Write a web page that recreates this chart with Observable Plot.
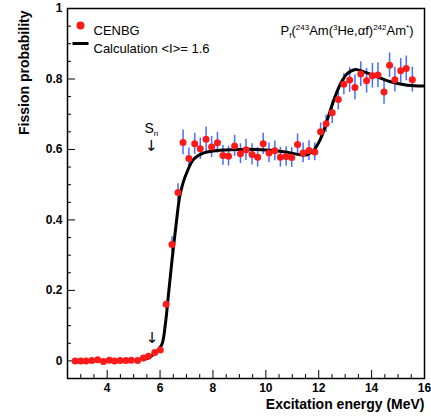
<!DOCTYPE html>
<html>
<head>
<meta charset="utf-8">
<script src="https://cdn.jsdelivr.net/npm/d3@7"></script>
<script src="https://cdn.jsdelivr.net/npm/@observablehq/plot@0.6"></script>
<style>
  html, body { margin: 0; padding: 0; background: #fff; }
  svg { display: block; }
</style>
</head>
<body>
<div id="chart"></div>
<script>
// Measured data (CENBG)
const energy = [2.79,3.00,3.20,3.42,3.64,3.86,4.08,4.28,4.49,4.71,
  4.91,5.15,5.37,5.56,5.80,6.01,6.23,6.45,6.68,6.87,
  7.09,7.31,7.52,7.74,7.95,8.17,8.38,8.59,8.82,9.04,
  9.25,9.48,9.69,9.90,10.12,10.34,10.55,10.77,10.98,11.20,
  11.41,11.63,11.85,12.07,12.28,12.51,12.74,12.95,13.17,13.37,
  13.59,13.81,14.03,14.24,14.47,14.68,14.88,15.10,15.31,15.54];
const prob = [0,0,0,0.001,0.003,-0.002,0.002,0,0.001,0.001,
  0.002,0.001,0.008,0.013,0.024,0.031,0.161,0.330,0.478,0.620,
  0.574,0.616,0.602,0.629,0.607,0.619,0.583,0.581,0.610,0.588,
  0.599,0.586,0.578,0.616,0.590,0.596,0.578,0.580,0.577,0.614,
  0.590,0.597,0.593,0.650,0.673,0.704,0.742,0.785,0.797,0.776,
  0.814,0.795,0.809,0.811,0.763,0.839,0.798,0.823,0.830,0.798];
const errs = [0,0,0,0,0,0,0,0,0,0,
  0,0,0,0,0,0,0.008,0.022,0.025,0.035,
  0.03,0.03,0.03,0.035,0.03,0.03,0.028,0.028,0.03,0.028,
  0.03,0.03,0.028,0.03,0.028,0.028,0.028,0.028,0.028,0.03,
  0.028,0.028,0.025,0.025,0.025,0.03,0.03,0.03,0.035,0.035,
  0.035,0.035,0.035,0.035,0.035,0.035,0.035,0.035,0.035,0.035];

// Calculation <I> = 1.6
const calcE = [5.35,5.6,5.88,6.07,6.2,6.32,6.45,6.61,6.74,6.87,7.02,7.27,7.65,8.15,9.04,9.67,10.3,10.8,11.31,11.56,11.81,12.07,12.32,12.57,12.83,13.08,13.39,13.71,14.22,14.72,15.35,15.96];
const calcP = [0.003,0.010,0.028,0.047,0.104,0.19,0.284,0.389,0.465,0.505,0.536,0.572,0.59,0.597,0.600,0.600,0.597,0.592,0.585,0.585,0.598,0.63,0.683,0.74,0.787,0.815,0.827,0.82,0.806,0.792,0.782,0.780];

const xTicks = [4,6,8,10,12,14,16];
const yTicks = [0,0.2,0.4,0.6,0.8,1];
const xMinor = d3.range(3, 16, 0.5).filter(v => !xTicks.includes(v));
const yMinor = d3.range(0, 1.0001, 0.05).map(v => +v.toFixed(2)).filter(v => !yTicks.includes(v)).concat([-0.05]);

const points = energy.map((e, i) => ({e, p: prob[i], err: errs[i]}));
const calc = calcE.map((e, i) => ({e, p: calcP[i]}));
const arrows = [{e: 5.67, p: 0.609}, {e: 5.70, p: 0.063}];

const W = 431, H = 416, ML = 67, MR = 7, MT = 8, MB = 38;
const FW = W - ML - MR, FH = H - MT - MB;

const lineSymbol = { draw(ctx, size) { ctx.moveTo(-8, 0); ctx.lineTo(8, 0); } };

const font = "'Liberation Sans', Arial, Helvetica, sans-serif";

const plot = Plot.plot({
  width: W, height: H,
  marginLeft: ML, marginRight: MR, marginTop: MT, marginBottom: MB,
  style: { fontFamily: font, fontSize: "12px", color: "black", background: "white" },
  x: { domain: [2.5, 16] },
  y: { domain: [-0.05, 1.0] },
  marks: [
    Plot.axisX(xTicks, { tickSize: 0, tickPadding: 5, fontWeight: "bold", fontSize: 12, label: null, tickFormat: d => String(d) }),
    Plot.axisY(yTicks, { tickSize: 0, tickPadding: 5, fontWeight: "bold", fontSize: 12, label: null, tickFormat: d => String(d) }),
    // inward tick marks
    Plot.ruleX(xTicks, { x: d => d, insetTop: FH - 8, stroke: "black", strokeWidth: 1 }),
    Plot.ruleX(xMinor, { x: d => d, insetTop: FH - 4, stroke: "black", strokeWidth: 1 }),
    Plot.ruleY(yTicks, { y: d => d, insetRight: FW - 8, stroke: "black", strokeWidth: 1 }),
    Plot.ruleY(yMinor, { y: d => d, insetRight: FW - 4, stroke: "black", strokeWidth: 1 }),
    Plot.frame({ stroke: "black", strokeWidth: 1.5 }),
    // error bars
    Plot.ruleX(points.filter(d => d.err > 0), { x: "e", y1: d => d.p - d.err, y2: d => d.p + d.err, stroke: "#4a6cff", strokeWidth: 1.5 }),
    // calculation
    Plot.line(calc, { x: "e", y: "p", stroke: "black", strokeWidth: 3, curve: "catmull-rom" }),
    // data points
    Plot.dot(points, { x: "e", y: "p", r: 3.5, fill: "#ff1a1a", stroke: "none" }),
    // S_n annotations
    Plot.text(arrows, { x: "e", y: "p", text: () => "↓", fontSize: 15, fontFamily: "'DejaVu Sans', sans-serif", fill: "black" }),
    Plot.text([{e: 5.67, p: 0.66}], { x: "e", y: "p", text: () => "S", fontSize: 14, className: "rich-sn", fill: "black" }),
    // legend
    Plot.dot([0], { frameAnchor: "top-left", dx: 13, dy: 17, r: 4, fill: "#ff1a1a", stroke: "none" }),
    Plot.dot([0], { frameAnchor: "top-left", dx: 13, dy: 35, symbol: lineSymbol, r: 4, stroke: "black", strokeWidth: 3, fill: "none" }),
    Plot.text(["CENBG"], { frameAnchor: "top-left", dx: 26, dy: 17, text: d => d, textAnchor: "start", fontSize: 13 }),
    Plot.text(["Calculation <I>= 1.6"], { frameAnchor: "top-left", dx: 26, dy: 35, text: d => d, textAnchor: "start", fontSize: 13 }),
    // reaction title
    Plot.text(["P"], { frameAnchor: "top-right", dx: -11, dy: 17, text: d => d, textAnchor: "end", fontSize: 13, className: "rich-title" }),
    // axis titles
    Plot.text(["Excitation energy (MeV)"], { frameAnchor: "bottom-right", dy: 30, text: d => d, textAnchor: "end", fontSize: 14, fontWeight: "bold" }),
    Plot.text(["Fission probability"], { frameAnchor: "top-left", dx: -48, dy: 2, rotate: -90, text: d => d, textAnchor: "end", fontSize: 14, fontWeight: "bold" })
  ]
});

document.getElementById("chart").appendChild(plot);

// Rich text (sub/superscripts) built as tspans
function rich(sel, segs) {
  const t = d3.select(plot).select(sel).select("text");
  t.text(null);
  let shift = 0;
  for (const s of segs) {
    const target = s.sup ? -5 : s.sub ? 3 : 0;
    const ts = t.append("tspan").text(s.t).attr("dy", target - shift);
    if (s.sup || s.sub) ts.attr("font-size", 8);
    shift = target;
  }
}
rich(".rich-title", [
  {t: "P"}, {t: "f", sub: true}, {t: "("}, {t: "243", sup: true}, {t: "Am("},
  {t: "3", sup: true}, {t: "He,"}, {t: "α", }, {t: "f)"}, {t: "242", sup: true},
  {t: "Am"}, {t: "*", sup: true}, {t: ")"}
]);
rich(".rich-sn", [{t: "S"}, {t: "n", sub: true}]);
</script>
</body>
</html>
